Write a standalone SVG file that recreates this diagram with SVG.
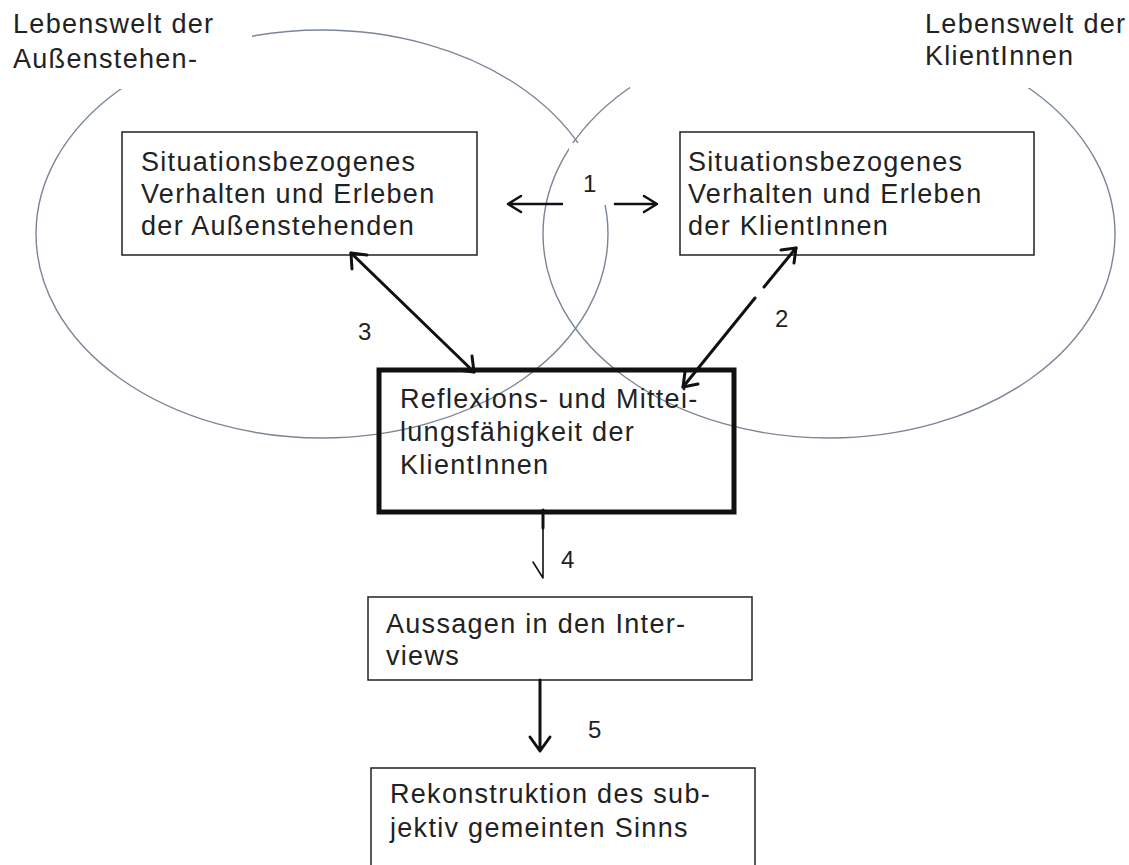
<svg xmlns="http://www.w3.org/2000/svg" width="1129" height="865" viewBox="0 0 1129 865">
<style>
.t{font-family:"Liberation Sans",Arial,sans-serif;font-size:27px;letter-spacing:1.3px;fill:#222}
.n{font-family:"Liberation Sans",Arial,sans-serif;font-size:24px;fill:#222}
.box{fill:#fff;stroke:#222;stroke-width:1.5}
.ell{fill:none;stroke:#7a8596;stroke-width:1.4}
.c{fill:none;stroke:#111;stroke-linecap:round;stroke-linejoin:round}
.mask{fill:#fff}
</style>
<rect width="1129" height="865" fill="#fff"/>
<g id="lifeworlds">
<ellipse class="ell" cx="322" cy="234" rx="286" ry="204"/>
<ellipse class="ell" cx="829" cy="234" rx="286" ry="204"/>
</g>
<g id="label-left">
<rect class="mask" x="0" y="0" width="252" height="89"/>
<text class="t" x="13" y="33">Lebenswelt der</text>
<text class="t" x="13" y="68">Außenstehen-</text>
</g>
<g id="label-right">
<rect class="mask" x="630" y="0" width="499" height="88"/>
<text class="t" x="925" y="33">Lebenswelt der</text>
<text class="t" x="925" y="65">KlientInnen</text>
</g>
<g id="box-aussen">
<rect class="box" x="122" y="132" width="355" height="123"/>
<text class="t" x="141" y="171">Situationsbezogenes</text>
<text class="t" x="141" y="203">Verhalten und Erleben</text>
<text class="t" x="141" y="235">der Außenstehenden</text>
</g>
<g id="box-klient">
<rect class="box" x="680" y="132" width="354" height="123"/>
<text class="t" x="688" y="171">Situationsbezogenes</text>
<text class="t" x="688" y="203">Verhalten und Erleben</text>
<text class="t" x="688" y="235">der KlientInnen</text>
</g>
<g id="box-reflexion">
<rect x="379" y="370" width="355" height="142" fill="none" stroke="#111" stroke-width="5"/>
<text class="t" x="400" y="408">Reflexions- und Mittei-</text>
<text class="t" x="400" y="441">lungsfähigkeit der</text>
<text class="t" x="400" y="474">KlientInnen</text>
</g>
<g id="box-aussagen">
<rect class="box" x="368" y="597" width="384" height="83"/>
<text class="t" x="386" y="633">Aussagen in den Inter-</text>
<text class="t" x="386" y="665">views</text>
</g>
<g id="box-rekonstruktion">
<rect class="box" x="371" y="768" width="384" height="110"/>
<text class="t" x="390" y="803">Rekonstruktion des sub-</text>
<text class="t" x="390" y="837">jektiv gemeinten Sinns</text>
</g>
<g id="connectors">
<path class="c" stroke-width="2.5" d="M562 204 H508 M521 196 L508 204 L521 212"/>
<path class="c" stroke-width="2.5" d="M615 204 H657 M644 196 L657 204 L644 212"/>
<path class="c" stroke-width="3" d="M351 253 L474 372"/>
<path class="c" stroke-width="3" d="M352 269 L351 253 L367 255"/>
<path class="c" stroke-width="3" d="M472 356 L474 372 L458 370"/>
<path class="c" stroke-width="3" d="M796 248 L764 287 M755 298 L683 387"/>
<path class="c" stroke-width="3" d="M781 250 L796 248 L794 263"/>
<path class="c" stroke-width="3" d="M685 372 L683 387 L698 384"/>
<path class="c" stroke-width="3" d="M543 510 V528"/>
<path class="c" stroke-width="1.6" d="M543 528 V578 M533 562 L543 578"/>
<path class="c" stroke-width="3" d="M540 680 V751 M530 737 L540 751 L550 737"/>
</g>
<g id="labels">
<rect class="mask" x="569" y="143" width="43" height="62"/>
<text class="n" x="583" y="192">1</text>
<text class="n" x="775" y="327">2</text>
<text class="n" x="358" y="340">3</text>
<text class="n" x="561" y="568">4</text>
<text class="n" x="588" y="738">5</text>
</g>
</svg>
